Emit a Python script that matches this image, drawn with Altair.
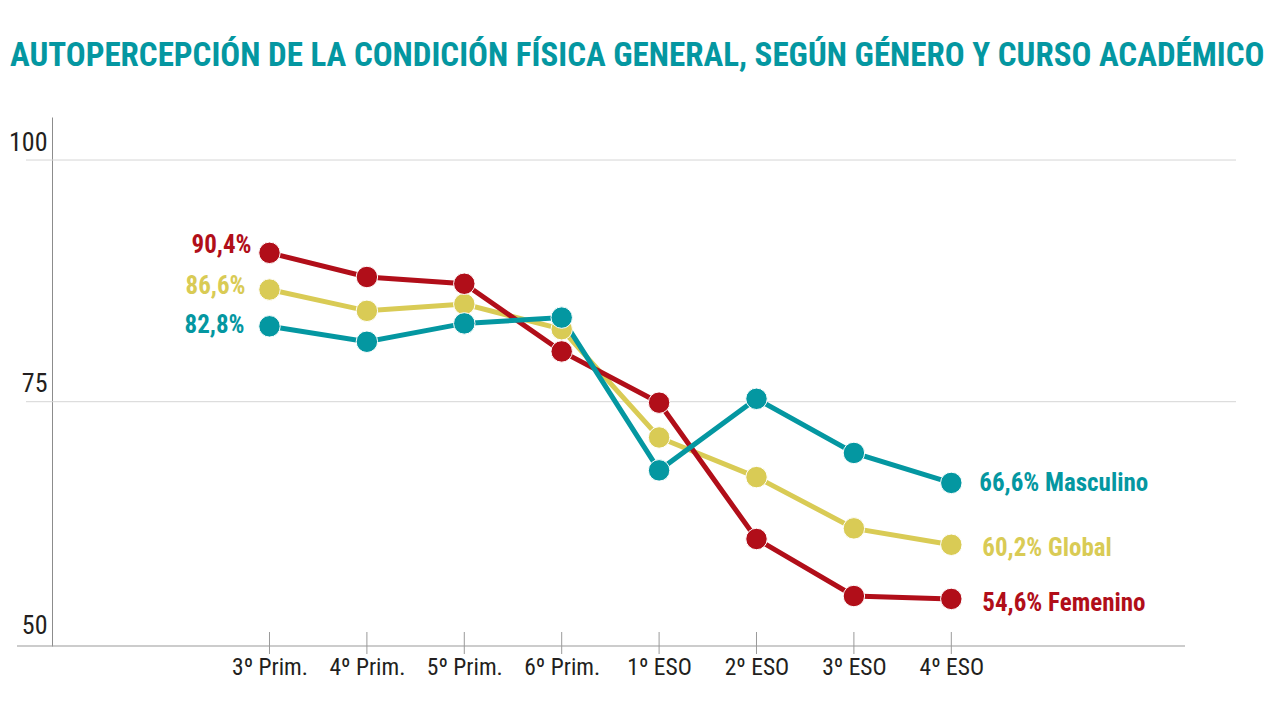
import json
import altair as alt
import pandas as pd

# ---------------- data ----------------
cursos = ["3º Prim.", "4º Prim.", "5º Prim.", "6º Prim.", "1º ESO", "2º ESO", "3º ESO", "4º ESO"]
series_order = ["Global", "Femenino", "Masculino"]
femenino = [90.4, 87.9, 87.2, 80.2, 74.9, 60.8, 54.9, 54.6]
global_vals = [86.6, 84.4, 85.1, 82.5, 71.3, 67.2, 61.9, 60.2]
masculino = [82.8, 81.2, 83.1, 83.7, 67.9, 75.3, 69.7, 66.6]
y_tick_values = [50, 75, 100]
grid_values = [75, 100]
title_text = "AUTOPERCEPCIÓN DE LA CONDICIÓN FÍSICA GENERAL, SEGÚN GÉNERO Y CURSO ACADÉMICO"

values_by_series = {"Global": global_vals, "Femenino": femenino, "Masculino": masculino}

# ---------------- style ----------------
colors = {"Global": "#d9cb55", "Femenino": "#b10e19", "Masculino": "#0497a1"}
FONT = "Roboto Condensed, Liberation Sans Narrow, DejaVu Sans Condensed, sans-serif"
left_offsets = {"Femenino": (-18, -8), "Global": (-24, -4), "Masculino": (-25, -1)}
right_offsets = {"Masculino": (28, 0), "Global": (31, 3), "Femenino": (31, 4)}
LABEL_SIZE = 25

rows = []
for s in series_order:
    for i, v in enumerate(values_by_series[s]):
        rows.append({"serie": s, "idx": i, "curso": cursos[i], "valor": v})
df = pd.DataFrame(rows)


def fmt(v):
    return f"{v:.1f}".replace(".", ",") + "%"


label_expr = json.dumps(cursos, ensure_ascii=False) + "[datum.value]"

x_enc = alt.X(
    "idx:Q",
    scale=alt.Scale(domain=[-2.233, 9.923], nice=False, zero=False),
    axis=alt.Axis(
        values=list(range(len(cursos))),
        labelExpr=label_expr,
        domain=False,
        ticks=False,
        grid=False,
        labelPadding=9,
        labelFontSize=23.5,
        labelFont=FONT,
        labelColor="#231f20",
        labelBaseline="top",
        labelFlush=False,
        labelOverlap=False,
        title=None,
    ),
)
y_enc = alt.Y(
    "valor:Q",
    scale=alt.Scale(domain=[49.73, 104.45], nice=False, zero=False),
    axis=alt.Axis(
        values=y_tick_values,
        grid=False,
        ticks=False,
        domain=True,
        domainColor="#8c8c8c",
        domainWidth=1,
        labelPadding=5,
        labelFontSize=26,
        labelFont=FONT,
        labelColor="#231f20",
        labelBaseline="alphabetic",
        labelOffset=-10,
        labelOverlap=False,
        title=None,
    ),
)

layers = []

# title as text
layers.append(
    alt.Chart(pd.DataFrame({"t": [title_text]})).mark_text(
        align="left", baseline="alphabetic", font=FONT, fontSize=33,
        fontWeight="bold", color="#0497a1"
    ).encode(x=alt.value(-42), y=alt.value(-51), text="t:N")
)

# grid lines (75, 100) extending left of the y axis
grid_df = pd.DataFrame({"valor": grid_values})
layers.append(
    alt.Chart(grid_df).mark_rule(color="#d5d5d5", strokeWidth=1).encode(
        y=y_enc, x=alt.value(-26), x2=alt.value(1184)
    )
)

# x baseline
layers.append(
    alt.Chart(pd.DataFrame({"a": [0]})).mark_rule(color="#9a9a9a", strokeWidth=1.2).encode(
        x=alt.value(-35), x2=alt.value(1133), y=alt.value(529)
    )
)

# x ticks crossing the baseline
tick_df = pd.DataFrame({"idx": list(range(len(cursos)))})
layers.append(
    alt.Chart(tick_df).mark_rule(color="#9a9a9a", strokeWidth=1).encode(
        x=x_enc, y=alt.value(515), y2=alt.value(537)
    )
)

# lines
for s in series_order:
    layers.append(
        alt.Chart(df).transform_filter(alt.datum.serie == s).mark_line(
            color=colors[s], strokeWidth=5
        ).encode(x=x_enc, y=y_enc)
    )

# points
for s in series_order:
    layers.append(
        alt.Chart(df).transform_filter(alt.datum.serie == s).mark_point(
            filled=True, shape="circle", size=460, color=colors[s], opacity=1,
            stroke="white", strokeWidth=1
        ).encode(x=x_enc, y=y_enc)
    )

# labels
for s in series_order:
    vals = values_by_series[s]
    ldf = pd.DataFrame({"idx": [0], "valor": [vals[0]], "label": [fmt(vals[0])]})
    dx, dy = left_offsets[s]
    layers.append(
        alt.Chart(ldf).mark_text(
            align="right", baseline="middle", dx=dx, dy=dy, font=FONT,
            fontSize=LABEL_SIZE, fontWeight="bold", color=colors[s]
        ).encode(x=x_enc, y=y_enc, text="label:N")
    )
    last = len(vals) - 1
    rdf = pd.DataFrame({"idx": [last], "valor": [vals[last]], "label": [fmt(vals[last]) + " " + s]})
    dx, dy = right_offsets[s]
    layers.append(
        alt.Chart(rdf).mark_text(
            align="left", baseline="middle", dx=dx, dy=dy, font=FONT,
            fontSize=LABEL_SIZE, fontWeight="bold", color=colors[s]
        ).encode(x=x_enc, y=y_enc, text="label:N")
    )

chart = alt.layer(*layers).properties(
    width=1184,
    height=529,
    padding={"left": 44, "top": 109, "right": 30, "bottom": 40},
    autosize=alt.AutoSizeParams(type="none"),
).configure(background="white").configure_view(strokeWidth=0, stroke="transparent")

chart.save("out.html", embed_options={"renderer": "svg", "actions": False})
